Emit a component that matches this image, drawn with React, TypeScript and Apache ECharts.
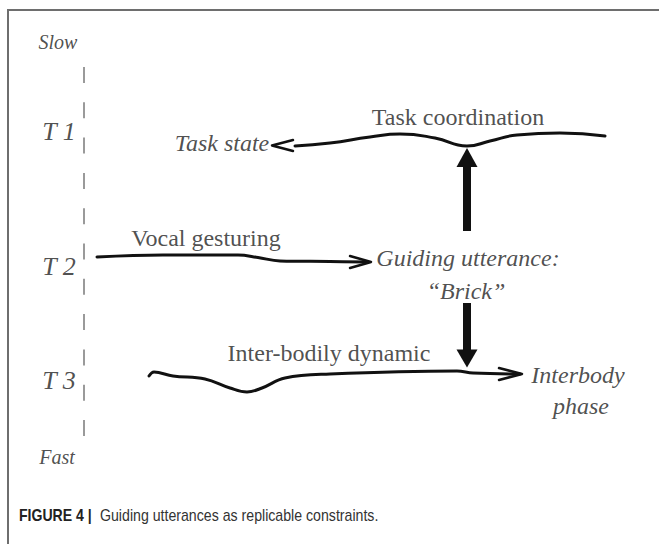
import React, { useEffect, useRef } from "react";
import * as echarts from "echarts";

// ---- Diagram data (in picture coordinates: x to the right, y downward) ----
const timeScaleLine: number[][] = [[84, 67], [84, 437]];

const taskCoordinationLine: number[][] = [
  [295, 146], [330, 143], [370, 137], [400, 134], [435, 138], [467, 146],
  [490, 141], [517, 135], [560, 133], [605, 136],
];
const taskStateHead: number[][] = [[293, 140], [272, 145.5], [293, 151]];

const vocalGesturingLine: number[][] = [
  [97, 257], [163, 255], [238, 255], [258, 257.5], [280, 261], [330, 261.5], [368, 262],
];
const vocalHead: number[][] = [[350, 256], [371, 262], [350, 268]];

const interBodilyLine: number[][] = [
  [149, 376], [154, 372], [173, 376], [205, 379], [230, 388], [247, 392], [262, 388],
  [285, 378], [330, 374], [457, 371], [473, 373], [520, 374],
];
const interHead: number[][] = [[499, 368], [522, 374], [499, 380]];

const upArrowShaft: number[][] = [[467, 231], [467, 164]];
const upArrowHead: number[] = [467, 157.5];
const downArrowShaft: number[][] = [[467, 303], [467, 352]];
const downArrowHead: number[] = [467, 358.5];

const timeLabels = [
  { name: "T 1", value: [59, 131] },
  { name: "T 2", value: [59, 266] },
  { name: "T 3", value: [59, 380] },
];
const speedLabels = [
  { name: "Slow", value: [58, 42] },
  { name: "Fast", value: [57, 457] },
];
const italicLabels = [
  { name: "Task state", value: [222, 143] },
  { name: "Guiding utterance:", value: [468, 258] },
  { name: "\u201cBrick\u201d", value: [466, 291] },
  { name: "Interbody", value: [578, 375] },
  { name: "phase", value: [581, 406] },
];
const romanLabels = [
  { name: "Task coordination", value: [458, 117] },
  { name: "Vocal gesturing", value: [206, 238] },
  { name: "Inter-bodily dynamic", value: [329, 353] },
];
const captionBold = "FIGURE 4 |";
const captionText = "Guiding utterances as replicable constraints.";

const W = 659;
const H = 544;
const SERIF = "Liberation Serif";
const SANS = "Liberation Sans";

function lineSeries(data: number[][], smooth: boolean | number, width: number, extra: any = {}) {
  return {
    type: "line",
    data,
    smooth,
    symbol: "none",
    silent: true,
    lineStyle: { color: "#111", width, cap: "round", join: "round", ...extra },
    z: 2,
  };
}

function textSeries(data: any[], label: any) {
  return {
    type: "scatter",
    data,
    symbolSize: 0,
    silent: true,
    label: {
      show: true,
      position: "inside",
      formatter: "{b}",
      fontFamily: SERIF,
      color: "#222",
      ...label,
    },
    z: 5,
  };
}

export default function App() {
  const ref = useRef<HTMLDivElement>(null);
  useEffect(() => {
    document.body.style.margin = "0";
    const chart = echarts.init(ref.current!, undefined, { renderer: "svg" });
    chart.setOption({
      animation: false,
      backgroundColor: "#fff",
      grid: { left: 0, right: 0, top: 0, bottom: 0 },
      xAxis: { type: "value", min: 0, max: W, show: false },
      yAxis: { type: "value", min: 0, max: H, inverse: true, show: false },
      graphic: [
        {
          type: "polyline",
          shape: { points: [[8, H + 10], [8, 10], [W + 10, 10]] },
          style: { stroke: "#6e6e6e", lineWidth: 2, fill: "none" },
          silent: true,
        },
        {
          type: "text",
          x: 19,
          y: 515,
          scaleX: 0.88,
          silent: true,
          style: {
            text: captionBold,
            fontFamily: SANS,
            fontWeight: "bold",
            fontSize: 16,
            fill: "#222",
            verticalAlign: "middle",
          },
        },
        {
          type: "text",
          x: 100,
          y: 515,
          scaleX: 0.885,
          silent: true,
          style: {
            text: captionText,
            fontFamily: SANS,
            fontSize: 16,
            fill: "#333",
            verticalAlign: "middle",
          },
        },
      ],
      series: [
        {
          type: "line",
          data: timeScaleLine,
          symbol: "none",
          silent: true,
          lineStyle: { color: "#9a9a9a", width: 2, type: [16, 19.3] },
        },
        lineSeries(taskCoordinationLine, 0.5, 3),
        lineSeries(taskStateHead, false, 2.5),
        lineSeries(vocalGesturingLine, 0.4, 3),
        lineSeries(vocalHead, false, 2.5),
        lineSeries(interBodilyLine, 0.4, 3),
        lineSeries(interHead, false, 2.5),
        lineSeries(upArrowShaft, false, 8, { cap: "butt" }),
        lineSeries(downArrowShaft, false, 8, { cap: "butt" }),
        {
          type: "scatter",
          data: [upArrowHead],
          symbol: "triangle",
          symbolSize: [21, 19],
          silent: true,
          itemStyle: { color: "#111", opacity: 1 },
        },
        {
          type: "scatter",
          data: [downArrowHead],
          symbol: "triangle",
          symbolSize: [21, 18],
          symbolRotate: 180,
          silent: true,
          itemStyle: { color: "#111", opacity: 1 },
        },
        textSeries(timeLabels, { fontSize: 26, fontStyle: "italic" }),
        textSeries(speedLabels, { fontSize: 20, fontStyle: "italic" }),
        textSeries(italicLabels, { fontSize: 24, fontStyle: "italic" }),
        textSeries(romanLabels, { fontSize: 24 }),
      ],
    });
    return () => chart.dispose();
  }, []);
  return <div ref={ref} style={{ width: W, height: H }} />;
}
